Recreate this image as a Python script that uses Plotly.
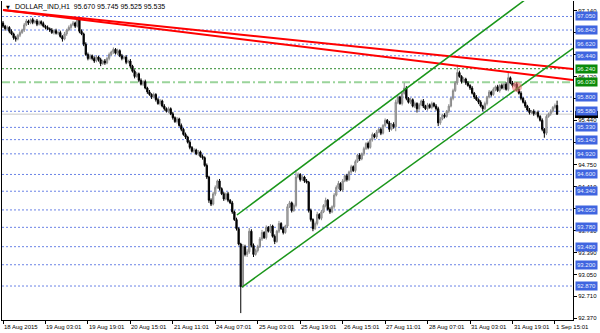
import plotly.graph_objects as go

# ---------------- data ----------------
opens = [96.95, 96.90, 96.86, 96.88, 96.82, 96.78, 96.72, 96.70, 96.76, 96.80,
         96.84, 96.92, 96.98, 96.95, 97.00, 96.96, 96.98, 96.93, 96.97, 96.94,
         96.90, 96.88, 96.86, 96.84, 96.80, 96.83, 96.79, 96.80, 96.74, 96.70,
         96.78, 96.84, 96.88, 96.92, 96.95, 96.90, 97.00, 96.82, 96.78, 96.62,
         96.46, 96.40, 96.44, 96.40, 96.36, 96.42, 96.38, 96.32, 96.36, 96.33,
         96.40, 96.46, 96.50, 96.54, 96.48, 96.52, 96.44, 96.40, 96.42, 96.34,
         96.36, 96.28, 96.20, 96.12, 96.16, 96.06, 96.00, 96.04, 95.94, 95.88,
         95.84, 95.80, 95.84, 95.76, 95.70, 95.74, 95.66, 95.62, 95.58, 95.62,
         95.54, 95.48, 95.42, 95.46, 95.36, 95.30, 95.22, 95.18, 95.10, 95.02,
         94.96, 94.98, 94.92, 94.95, 94.88, 94.86, 94.74, 94.56, 94.20, 94.14,
         94.30, 94.40, 94.50, 94.38, 94.30, 94.22, 94.30, 94.20, 94.16, 94.02,
         93.90, 93.76, 93.52, 92.86, 93.48, 93.36, 93.40, 93.72, 93.50, 93.36,
         93.42, 93.48, 93.60, 93.70, 93.62, 93.78, 93.72, 93.80, 93.64, 93.56,
         93.72, 93.84, 93.76, 93.70, 93.80, 94.10, 94.16, 94.04, 94.12, 94.56,
         94.60, 94.52, 94.56, 94.50, 94.48, 94.04, 93.90, 93.76, 93.84, 93.98,
         93.92, 94.02, 94.12, 94.20, 94.06, 94.02, 94.10, 94.28, 94.40, 94.46,
         94.36, 94.50, 94.58, 94.52, 94.64, 94.72, 94.66, 94.80, 94.90, 94.84,
         94.92, 95.00, 95.08, 95.02, 95.14, 95.22, 95.18, 95.26, 95.30, 95.24,
         95.36, 95.44, 95.40, 95.30, 95.38, 95.34, 95.72, 95.80, 95.70, 95.86,
         95.94, 95.78, 95.72, 95.76, 95.66, 95.70, 95.62, 95.68, 95.74, 95.66,
         95.62, 95.68, 95.64, 95.70, 95.66, 95.62, 95.40, 95.46, 95.52, 95.50,
         95.58, 95.66, 95.78, 95.90, 96.02, 96.18, 96.12, 96.04, 96.08, 96.02,
         95.98, 95.94, 95.86, 95.80, 95.76, 95.72, 95.66, 95.62, 95.70, 95.80,
         95.88, 95.84, 95.92, 95.96, 95.90, 95.98, 95.94, 96.00, 95.92, 96.10,
         96.02, 95.98, 96.00, 95.92, 95.86, 95.78, 95.72, 95.66, 95.60, 95.56,
         95.58, 95.54, 95.56, 95.50, 95.44, 95.30, 95.24, 95.50, 95.54, 95.58,
         95.64, 95.670]

highs = [96.98, 96.92, 96.91, 96.90, 96.85, 96.80, 96.75, 96.78, 96.83, 96.86,
         96.95, 97.01, 97.00, 97.02, 97.03, 97.00, 97.01, 96.99, 96.99, 96.97,
         96.92, 96.91, 96.88, 96.87, 96.85, 96.86, 96.82, 96.83, 96.76, 96.81,
         96.86, 96.91, 96.94, 96.98, 96.97, 97.04, 97.02, 96.85, 96.80, 96.65,
         96.49, 96.47, 96.46, 96.43, 96.45, 96.44, 96.41, 96.38, 96.39, 96.42,
         96.49, 96.52, 96.57, 96.56, 96.55, 96.54, 96.47, 96.44, 96.45, 96.38,
         96.39, 96.30, 96.23, 96.19, 96.18, 96.09, 96.06, 96.07, 95.96, 95.91,
         95.86, 95.87, 95.86, 95.79, 95.77, 95.76, 95.69, 95.64, 95.65, 95.64,
         95.57, 95.50, 95.49, 95.48, 95.39, 95.32, 95.25, 95.20, 95.13, 95.04,
         95.01, 95.00, 94.98, 94.97, 94.91, 94.88, 94.77, 94.58, 94.23, 94.33,
         94.43, 94.52, 94.53, 94.40, 94.33, 94.32, 94.33, 94.22, 94.19, 94.04,
         93.93, 93.78, 93.54, 93.52, 93.51, 93.44, 93.77, 93.75, 93.53, 93.45,
         93.51, 93.63, 93.74, 93.72, 93.81, 93.80, 93.83, 93.82, 93.67, 93.74,
         93.88, 93.86, 93.79, 93.82, 94.14, 94.19, 94.18, 94.15, 94.67, 94.63,
         94.62, 94.59, 94.58, 94.53, 94.50, 94.07, 93.92, 93.87, 94.02, 94.00,
         94.05, 94.14, 94.24, 94.22, 94.09, 94.12, 94.31, 94.43, 94.50, 94.48,
         94.53, 94.60, 94.61, 94.66, 94.75, 94.74, 94.83, 94.92, 94.93, 94.94,
         95.03, 95.10, 95.11, 95.16, 95.25, 95.24, 95.29, 95.32, 95.33, 95.38,
         95.47, 95.46, 95.43, 95.40, 95.41, 95.76, 95.83, 95.82, 95.89, 96.02,
         95.97, 95.80, 95.79, 95.78, 95.73, 95.72, 95.71, 95.76, 95.77, 95.68,
         95.71, 95.70, 95.73, 95.72, 95.69, 95.65, 95.49, 95.54, 95.55, 95.60,
         95.69, 95.80, 95.93, 96.05, 96.30, 96.21, 96.14, 96.11, 96.10, 96.05,
         96.00, 95.97, 95.88, 95.83, 95.78, 95.75, 95.68, 95.73, 95.82, 95.91,
         95.90, 95.95, 95.98, 95.99, 96.00, 96.01, 96.02, 96.03, 96.20, 96.12,
         96.05, 96.02, 96.03, 95.94, 95.89, 95.80, 95.75, 95.68, 95.63, 95.60,
         95.61, 95.58, 95.59, 95.52, 95.47, 95.32, 95.53, 95.56, 95.61, 95.66,
         95.70, 95.745]

lows = [96.87, 96.83, 96.84, 96.79, 96.76, 96.69, 96.66, 96.68, 96.73, 96.78,
        96.81, 96.90, 96.92, 96.93, 96.93, 96.94, 96.90, 96.91, 96.91, 96.88,
        96.85, 96.84, 96.81, 96.78, 96.77, 96.77, 96.76, 96.72, 96.66, 96.68,
        96.75, 96.82, 96.85, 96.90, 96.87, 96.88, 96.79, 96.76, 96.59, 96.44,
        96.37, 96.38, 96.37, 96.33, 96.34, 96.35, 96.28, 96.30, 96.30, 96.31,
        96.37, 96.44, 96.47, 96.46, 96.45, 96.42, 96.37, 96.38, 96.31, 96.32,
        96.25, 96.18, 96.09, 96.10, 96.03, 95.98, 95.97, 95.92, 95.85, 95.82,
        95.77, 95.78, 95.73, 95.68, 95.67, 95.64, 95.59, 95.56, 95.55, 95.52,
        95.45, 95.40, 95.39, 95.34, 95.27, 95.20, 95.15, 95.08, 94.99, 94.94,
        94.93, 94.90, 94.89, 94.86, 94.83, 94.72, 94.53, 94.16, 94.11, 94.12,
        94.27, 94.38, 94.35, 94.28, 94.19, 94.20, 94.17, 94.14, 93.99, 93.88,
        93.73, 93.50, 92.45, 92.84, 93.33, 93.32, 93.37, 93.47, 93.32, 93.34,
        93.39, 93.46, 93.57, 93.60, 93.59, 93.70, 93.69, 93.62, 93.52, 93.54,
        93.69, 93.74, 93.67, 93.68, 93.77, 94.08, 94.01, 94.02, 94.09, 94.54,
        94.49, 94.50, 94.47, 94.46, 94.01, 93.87, 93.72, 93.74, 93.81, 93.90,
        93.89, 94.00, 94.09, 94.04, 93.99, 94.00, 94.07, 94.26, 94.37, 94.34,
        94.33, 94.48, 94.49, 94.50, 94.61, 94.64, 94.63, 94.78, 94.81, 94.82,
        94.89, 94.98, 94.99, 95.00, 95.11, 95.16, 95.15, 95.24, 95.21, 95.22,
        95.33, 95.38, 95.26, 95.28, 95.31, 95.27, 95.69, 95.68, 95.67, 95.84,
        95.75, 95.70, 95.69, 95.64, 95.63, 95.56, 95.59, 95.66, 95.63, 95.60,
        95.59, 95.62, 95.61, 95.64, 95.59, 95.35, 95.37, 95.44, 95.47, 95.48,
        95.55, 95.64, 95.75, 95.88, 95.99, 96.10, 96.01, 96.02, 95.99, 95.96,
        95.91, 95.84, 95.77, 95.74, 95.69, 95.64, 95.58, 95.60, 95.67, 95.78,
        95.81, 95.82, 95.89, 95.88, 95.87, 95.92, 95.91, 95.90, 95.89, 96.00,
        95.95, 95.96, 95.89, 95.84, 95.75, 95.70, 95.63, 95.58, 95.53, 95.54,
        95.51, 95.52, 95.47, 95.42, 95.27, 95.17, 95.21, 95.48, 95.51, 95.56,
        95.61, 95.525]

closes = [96.90, 96.86, 96.88, 96.82, 96.78, 96.72, 96.70, 96.76, 96.80, 96.84,
          96.92, 96.98, 96.95, 97.00, 96.96, 96.98, 96.93, 96.97, 96.94, 96.90,
          96.88, 96.86, 96.84, 96.80, 96.83, 96.79, 96.80, 96.74, 96.70, 96.78,
          96.84, 96.88, 96.92, 96.95, 96.90, 97.00, 96.82, 96.78, 96.62, 96.46,
          96.40, 96.44, 96.40, 96.36, 96.42, 96.38, 96.32, 96.36, 96.33, 96.40,
          96.46, 96.50, 96.54, 96.48, 96.52, 96.44, 96.40, 96.42, 96.34, 96.36,
          96.28, 96.20, 96.12, 96.16, 96.06, 96.00, 96.04, 95.94, 95.88, 95.84,
          95.80, 95.84, 95.76, 95.70, 95.74, 95.66, 95.62, 95.58, 95.62, 95.54,
          95.48, 95.42, 95.46, 95.36, 95.30, 95.22, 95.18, 95.10, 95.02, 94.96,
          94.98, 94.92, 94.95, 94.88, 94.86, 94.74, 94.56, 94.20, 94.14, 94.30,
          94.40, 94.50, 94.38, 94.30, 94.22, 94.30, 94.20, 94.16, 94.02, 93.90,
          93.76, 93.52, 92.86, 93.48, 93.36, 93.40, 93.72, 93.50, 93.36, 93.42,
          93.48, 93.60, 93.70, 93.62, 93.78, 93.72, 93.80, 93.64, 93.56, 93.72,
          93.84, 93.76, 93.70, 93.80, 94.10, 94.16, 94.04, 94.12, 94.56, 94.60,
          94.52, 94.56, 94.50, 94.48, 94.04, 93.90, 93.76, 93.84, 93.98, 93.92,
          94.02, 94.12, 94.20, 94.06, 94.02, 94.10, 94.28, 94.40, 94.46, 94.36,
          94.50, 94.58, 94.52, 94.64, 94.72, 94.66, 94.80, 94.90, 94.84, 94.92,
          95.00, 95.08, 95.02, 95.14, 95.22, 95.18, 95.26, 95.30, 95.24, 95.36,
          95.44, 95.40, 95.30, 95.38, 95.34, 95.72, 95.80, 95.70, 95.86, 95.94,
          95.78, 95.72, 95.76, 95.66, 95.70, 95.62, 95.68, 95.74, 95.66, 95.62,
          95.68, 95.64, 95.70, 95.66, 95.62, 95.40, 95.46, 95.52, 95.50, 95.58,
          95.66, 95.78, 95.90, 96.02, 96.18, 96.12, 96.04, 96.08, 96.02, 95.98,
          95.94, 95.86, 95.80, 95.76, 95.72, 95.66, 95.62, 95.70, 95.80, 95.88,
          95.84, 95.92, 95.96, 95.90, 95.98, 95.94, 96.00, 95.92, 96.10, 96.02,
          95.98, 96.00, 95.92, 95.86, 95.78, 95.72, 95.66, 95.60, 95.56, 95.58,
          95.54, 95.56, 95.50, 95.44, 95.30, 95.24, 95.50, 95.54, 95.58, 95.64,
          95.67, 95.535]

time_tick_bars = [0, 20, 40, 60, 80, 100, 120, 140, 160, 180, 200, 220, 240, 260]
time_tick_labels = ["18 Aug 2015", "19 Aug 03:01", "19 Aug 19:01", "20 Aug 15:01",
                    "21 Aug 11:01", "24 Aug 07:01", "25 Aug 03:01", "25 Aug 19:01",
                    "26 Aug 15:01", "27 Aug 11:01", "28 Aug 07:01", "31 Aug 03:01",
                    "31 Aug 19:01", "1 Sep 15:01"]

# price-scale ticks; the ones hidden behind level labels carry no text
price_ticks = [97.140, 96.800, 96.460, 96.120, 95.780, 95.440, 95.090, 94.750,
               94.410, 94.070, 93.730, 93.390, 93.050, 92.710, 92.370]
price_tick_text = ["97.140", "", "", "96.120", "", "95.440", "", "94.750",
                   "94.410", "", "93.730", "93.390", "93.050", "92.710", "92.370"]

blue_levels = [97.050, 96.840, 96.620, 96.440, 95.800, 95.580, 95.330, 95.140,
               94.920, 94.600, 94.340, 94.050, 93.780, 93.480, 93.200, 92.870]
green_dot_level = 96.240
green_dashdot_level = 96.030
bid_price = 95.535

# trend lines: (bar, price) start / end
red_upper = [(0, 97.151), (268.5, 96.236)]
red_lower = [(0, 97.151), (268.5, 96.065)]
green_upper = [(110.2, 93.971), (268.5, 97.864)]
green_lower = [(112.6, 92.854), (268.5, 96.555)]
marker_circle = (242.1, 95.956)

title_text = "DOLLAR_IND,H1  95.670 95.745 95.525 95.535"

# ---------------- figure ----------------
FONT = "Liberation Sans"
bars = list(range(len(closes)))
x_range = [-0.47, 268.5]
y_range = [92.343, 97.290]

fig = go.Figure()
fig.add_trace(go.Candlestick(
    x=bars, open=opens, high=highs, low=lows, close=closes,
    increasing=dict(line=dict(color="#8a8a8a", width=1), fillcolor="#b8b8b8"),
    decreasing=dict(line=dict(color="#000000", width=1), fillcolor="#000000"),
    whiskerwidth=0, showlegend=False, hoverinfo="skip"))

shapes = []
for lv in blue_levels:
    shapes.append(dict(type="line", xref="paper", x0=0, x1=1, yref="y", y0=lv, y1=lv,
                       line=dict(color="#6a83e6", width=1, dash="2px,2px"), layer="below"))
shapes.append(dict(type="line", xref="paper", x0=0, x1=1, yref="y",
                   y0=green_dot_level, y1=green_dot_level,
                   line=dict(color="#2e8b2e", width=1, dash="2px,2px"), layer="below"))
shapes.append(dict(type="line", xref="paper", x0=0, x1=1, yref="y",
                   y0=green_dashdot_level, y1=green_dashdot_level,
                   line=dict(color="#9ad49a", width=2, dash="8px,3px,2px,3px"), layer="below"))
shapes.append(dict(type="line", xref="paper", x0=0, x1=1, yref="y",
                   y0=bid_price, y1=bid_price,
                   line=dict(color="#c8c8c8", width=1), layer="below"))

for (p0, p1), col, w in [((red_upper[0], red_upper[1]), "#ff0000", 2),
                         ((red_lower[0], red_lower[1]), "#ff0000", 2),
                         ((green_upper[0], green_upper[1]), "#1a961a", 1.5),
                         ((green_lower[0], green_lower[1]), "#1a961a", 1.5)]:
    shapes.append(dict(type="line", xref="x", yref="y", x0=p0[0], y0=p0[1],
                       x1=p1[0], y1=p1[1], line=dict(color=col, width=w),
                       layer="above"))

cx, cy = marker_circle
shapes.append(dict(type="circle", xref="x", yref="y", x0=cx - 2.4, x1=cx + 2.4,
                   y0=cy - 0.078, y1=cy + 0.078, fillcolor="rgba(240,110,110,0.55)",
                   line=dict(width=0), layer="above"))

# bid price box on the price scale (almost fully covered by the 95.580 label)
shapes.append(dict(type="rect", xref="paper", yref="y", x0=1.0035, x1=1.0438,
                   y0=bid_price - 0.06, y1=bid_price + 0.05, fillcolor="#000000",
                   line=dict(width=0), layer="above"))

annotations = []
# title
annotations.append(dict(xref="paper", yref="paper", x=0, y=1, xanchor="left", yanchor="top",
                        xshift=2, yshift=-1, text="▼", showarrow=False,
                        font=dict(family="DejaVu Sans", size=5, color="#000000")))
annotations.append(dict(xref="paper", yref="paper", x=0, y=1, xanchor="left", yanchor="top",
                        xshift=11, yshift=0, text=title_text, showarrow=False,
                        font=dict(family=FONT, size=7, color="#000000")))
# time labels
for b, t in zip(time_tick_bars, time_tick_labels):
    annotations.append(dict(xref="x", yref="paper", x=b, y=0, xanchor="left", yanchor="top",
                            xshift=-1, yshift=-2, text=t, showarrow=False,
                            font=dict(family=FONT, size=6, color="#000000")))
# level labels
for lv in blue_levels:
    annotations.append(dict(xref="paper", yref="y", x=1, y=lv, xanchor="left", yanchor="middle",
                            xshift=2, text=f"{lv:.3f}", showarrow=False, bgcolor="#3f65e0",
                            borderpad=1, font=dict(family=FONT, size=6, color="#e8eeff")))
for lv in [green_dot_level, green_dashdot_level]:
    annotations.append(dict(xref="paper", yref="y", x=1, y=lv, xanchor="left", yanchor="middle",
                            xshift=2, text=f"{lv:.3f}", showarrow=False, bgcolor="#0a8a0a",
                            borderpad=1, font=dict(family=FONT, size=6, color="#e8ffe8")))

fig.update_layout(
    width=600, height=333,
    margin=dict(l=2, r=27, t=1, b=13),
    paper_bgcolor="#ffffff", plot_bgcolor="#ffffff",
    showlegend=False, boxgap=0.15,
    shapes=shapes, annotations=annotations,
    xaxis=dict(range=x_range, rangeslider=dict(visible=False), showgrid=False, zeroline=False,
               showline=True, linecolor="#000000", linewidth=1,
               ticks="outside", ticklen=3, tickcolor="#000000",
               tickvals=time_tick_bars, showticklabels=False, fixedrange=True),
    yaxis=dict(range=y_range, side="right", showgrid=False, zeroline=False,
               showline=True, linecolor="#000000", linewidth=1, mirror=True,
               ticks="outside", ticklen=3, tickcolor="#000000",
               tickvals=price_ticks, ticktext=price_tick_text,
               tickfont=dict(family=FONT, size=6, color="#000000"), fixedrange=True),
)

fig.write_html("out.html")
